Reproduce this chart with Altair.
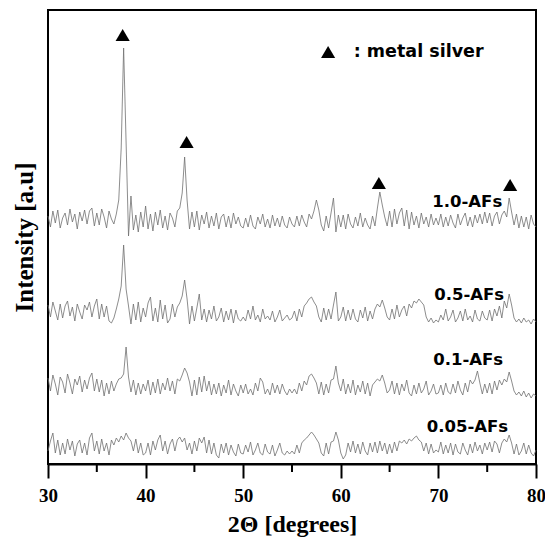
import altair as alt
import pandas as pd

# 2-theta sampling grid (degrees), 0.25 deg step from 30 to 80
two_theta = [30 + 0.25 * i for i in range(201)]

series_names = ["1.0-AFs", "0.5-AFs", "0.1-AFs", "0.05-AFs"]
offsets = [244, 151, 77, 17]

int_10 = [
    4, -7, 9, -3, 10, -8, 2, 7, -5, 11, -2, 6, -9, 8, -1, 10, -4, 9, 12, -6,
    7, -5, 11, 3, -8, 9, 1, -4, 6, 20, 72, 172, 78, -16, 24, -10, 5, -12, 8, -7,
    14, -9, 6, -11, 8, -5, 10, -8, 4, -10, 7, 2, -7, 9, 12, 27, 63, 20, -9, 8,
    -7, 9, -10, 5, -4, 8, -8, 4, -6, 7, -9, 3, 6, -7, 4, -8, 7, -4, 3, -6,
    -8, 2, -7, 5, -6, -9, 3, -4, 6, -7, 1, -8, 5, -6, 2, -7, 4, -5, -8, 3,
    -4, -7, 4, -6, 5, -2, -7, 6, 1, 9, 20, 10, -5, -11, 4, -8, 7, 22, -12, 5,
    -7, 5, -9, 6, -4, -8, 3, -6, 7, -7, 2, -5, -9, 4, -6, 12, 28, 15, 3, -6,
    9, -7, 11, -4, 7, 12, -6, 10, -9, 8, -5, 4, -8, 7, -4, 3, -7, 6, -5, 2,
    -5, 6, -7, 3, -6, 5, -3, -8, 6, -5, 2, 7, -6, 3, -7, 5, -3, 6, -4, 8,
    -3, 7, -6, 4, 8, -4, 5, 9, 3, 22, 8, -5, 6, -8, 4, -7, 3, -9, 5, -4, -7,
]
int_05 = [
    8, -4, 11, 2, -7, 9, -5, 7, 12, -3, 6, -8, 9, 1, -6, 8, 3, 11, -4, 7,
    14, -6, 9, -4, 7, -8, -10, -5, 4, 14, 27, 68, 24, 7, -11, 9, -7, 11, -9, 5,
    -4, 10, 16, -8, 5, -9, 13, -6, 8, -10, -6, 9, -4, 6, 10, 17, 33, 14, -11, 7,
    -8, 5, 19, -7, 4, -9, 3, -6, 7, -8, -4, 5, -9, 2, -7, 4, -10, 3, -6, -8,
    -4, -8, 3, -6, 7, -7, -2, -9, 4, -6, -3, -7, 2, -9, -4, 3, -8, -5, -2, -7,
    -5, 2, -8, 4, -4, 7, 10, 14, 16, 11, 7, -4, -9, 5, -7, 4, -6, 8, 21, -8,
    -4, 6, -8, 3, -7, 4, -6, -9, 3, -5, 6, -8, 2, -6, 4, 9, 6, 13, 5, -4,
    -7, 4, -6, 8, -4, 3, 7, -3, 9, 5, 12, 10, 14, 11, 8, -4, -9, -5, -10, -7,
    -9, -2, -7, 4, -8, -4, 3, -9, -5, 2, -8, 4, -7, -3, -9, 3, -6, -8, 2, -5,
    -7, 3, -8, 4, -3, 7, -5, 12, 5, 19, 8, -5, -9, -6, -10, -5, -9, -7, -11, -6, -9,
]
int_01 = [
    9, -4, 12, 3, -8, 10, 5, -6, 13, 4, -7, 8, 2, 11, -5, 7, -2, 9, 14, -4,
    8, -5, 7, -9, 4, -7, 6, -4, 3, 8, 9, 13, 40, 10, -5, 7, -8, 4, -7, 3,
    -4, 7, -8, 5, -6, 8, -7, 4, -3, 9, -4, 6, -7, 8, 6, 12, 19, 14, 5, -9,
    7, -8, 10, -5, 11, -4, 6, -8, 3, -7, 4, -9, 2, -6, 7, -8, 3, -4, -9, 2,
    -6, 3, -7, -2, -8, 4, -4, 9, 5, -7, -2, -8, 4, -6, 2, -7, 3, -4, -8, -2,
    -6, -2, -7, 4, -4, 6, 2, 11, 13, 9, 4, -7, 5, -8, 3, -6, 7, 8, 21, 4,
    -4, 8, -7, 3, -6, 7, -8, 2, -5, 6, -7, 4, -9, 2, 5, 8, 6, 12, 4, -6,
    -3, 6, -7, 4, -8, 3, -4, 7, -6, -9, 2, -7, 4, -6, -2, 6, -8, -4, 3, -7,
    -6, 2, -8, 4, -5, -7, 3, -6, 6, -3, -8, 4, -5, 7, 3, 7, 16, 4, -7, 3,
    -6, 4, -7, 6, -3, 7, 2, 8, 5, 15, 6, -4, -8, -5, -9, -4, -10, -6, -11, -7, -9,
]
int_005 = [
    -4, 6, 14, -6, 7, -8, 4, -7, 8, -3, 6, -9, 3, 7, -6, 4, -8, 9, 14, -4,
    6, -7, 8, -4, 4, -8, 7, 2, 9, 5, 11, 7, 14, 9, 6, -4, 8, -6, 4, -8,
    -6, 4, -8, 6, -3, 7, 12, -4, 6, -7, 3, 8, -4, 7, 10, 5, 9, -3, 4, -7,
    6, -4, 9, 4, 10, -6, 7, -7, 4, -8, -11, 3, -6, 4, -8, 2, -5, -9, 3, -6,
    -7, 2, -5, 5, -8, -3, 4, -6, -8, 3, -5, -7, 2, -9, -3, 4, -6, -8, -4, -7,
    -4, -7, 2, -6, 4, 7, 9, 12, 15, 12, 8, 4, -6, -9, 4, -7, 5, 6, 15, 7,
    -6, -12, -8, 4, -5, 6, -6, 3, -7, 5, -4, -8, 4, -5, 5, -6, 6, -4, 4, -7,
    3, -6, 5, -4, 6, 4, 7, 3, 8, 6, 9, 11, 7, 5, -4, 4, -7, 3, -6, -3,
    -5, 5, -7, 2, -6, 4, -8, 3, -5, -7, 4, -3, -8, 3, -6, 5, -4, 2, -7, 4,
    -3, 5, -5, 6, 3, -6, 4, 8, 5, 12, 4, -7, 3, -8, -4, 4, -7, 2, -6, -9, -3,
]
intensities = [int_10, int_05, int_01, int_005]

# silver reflection markers
peak_x = [37.65, 44.2, 63.9, 77.35]
peak_y = [429, 322, 281, 279]

# series labels (right-aligned)
label_x = [76.54, 76.74, 76.64, 77.15]
label_y = [262, 169, 104, 37]

rows = []
for name, off, vals in zip(series_names, offsets, intensities):
    for xv, v in zip(two_theta, vals):
        rows.append({"x": xv, "y": off + v, "series": name})
df = pd.DataFrame(rows)

W, H = 488, 454
xscale = alt.Scale(domain=[30, 80], nice=False)
yscale = alt.Scale(domain=[0, H], nice=False)

SERIF = "Liberation Serif"
SANS = "DejaVu Sans"

lines = alt.Chart(df).mark_line(color="#707070", strokeWidth=0.8).encode(
    x=alt.X("x:Q", scale=xscale,
            axis=alt.Axis(values=[30, 40, 50, 60, 70, 80], title="2Θ [degrees]",
                          grid=False, ticks=True, tickSize=14, tickWidth=2,
                          tickColor="black", labelFlush=False, labelOverlap=False,
                          domainColor="black", domainWidth=2,
                          labelFont=SERIF, labelFontWeight="bold", labelFontSize=19,
                          labelColor="black", labelPadding=8,
                          titleFont=SERIF, titleFontWeight="bold", titleFontSize=24,
                          titleColor="black", titlePadding=7)),
    y=alt.Y("y:Q", scale=yscale,
            axis=alt.Axis(title="Intensity [a.u]", ticks=False, labels=False,
                          domain=False, grid=False,
                          titleFont=SERIF, titleFontWeight="bold", titleFontSize=25,
                          titleColor="black", titlePadding=11)),
    detail="series:N",
)

minor_df = pd.DataFrame({"x": [35, 45, 55, 65, 75]})
minor = alt.Chart(minor_df).mark_rule(color="black", strokeWidth=2).encode(
    x=alt.X("x:Q", scale=xscale),
    y=alt.value(H), y2=alt.value(H + 8),
)

peaks_df = pd.DataFrame({"x": peak_x, "y": peak_y})
peaks = alt.Chart(peaks_df).mark_point(shape="triangle-up", filled=True,
                                       color="black", size=200, opacity=1).encode(
    x=alt.X("x:Q", scale=xscale), y=alt.Y("y:Q", scale=yscale))

labels_df = pd.DataFrame({"x": label_x, "y": label_y, "t": series_names})
labels = alt.Chart(labels_df).mark_text(font=SANS, fontWeight="bold", fontSize=16.5,
                                        align="right", baseline="middle",
                                        color="black").encode(
    x=alt.X("x:Q", scale=xscale), y=alt.Y("y:Q", scale=yscale), text="t:N")

legend_sym = alt.Chart(pd.DataFrame({"x": [58.7], "y": [412]})).mark_point(
    shape="triangle-up", filled=True, color="black", size=200, opacity=1).encode(
    x=alt.X("x:Q", scale=xscale), y=alt.Y("y:Q", scale=yscale))
legend_txt = alt.Chart(pd.DataFrame({"x": [61.33], "y": [412], "t": [": metal silver"]})).mark_text(
    font=SANS, fontWeight="bold", fontSize=17.5, align="left", baseline="middle",
    color="black").encode(
    x=alt.X("x:Q", scale=xscale), y=alt.Y("y:Q", scale=yscale), text="t:N")

chart = alt.layer(lines, minor, peaks, labels, legend_sym, legend_txt).properties(
    width=W, height=H,
    autosize=alt.AutoSizeParams(type="none"),
    padding={"left": 40, "top": 2, "right": 9, "bottom": 74},
).configure_view(stroke="black", strokeWidth=2)

chart.save("out.html", embed_options={"renderer": "svg", "actions": False})
